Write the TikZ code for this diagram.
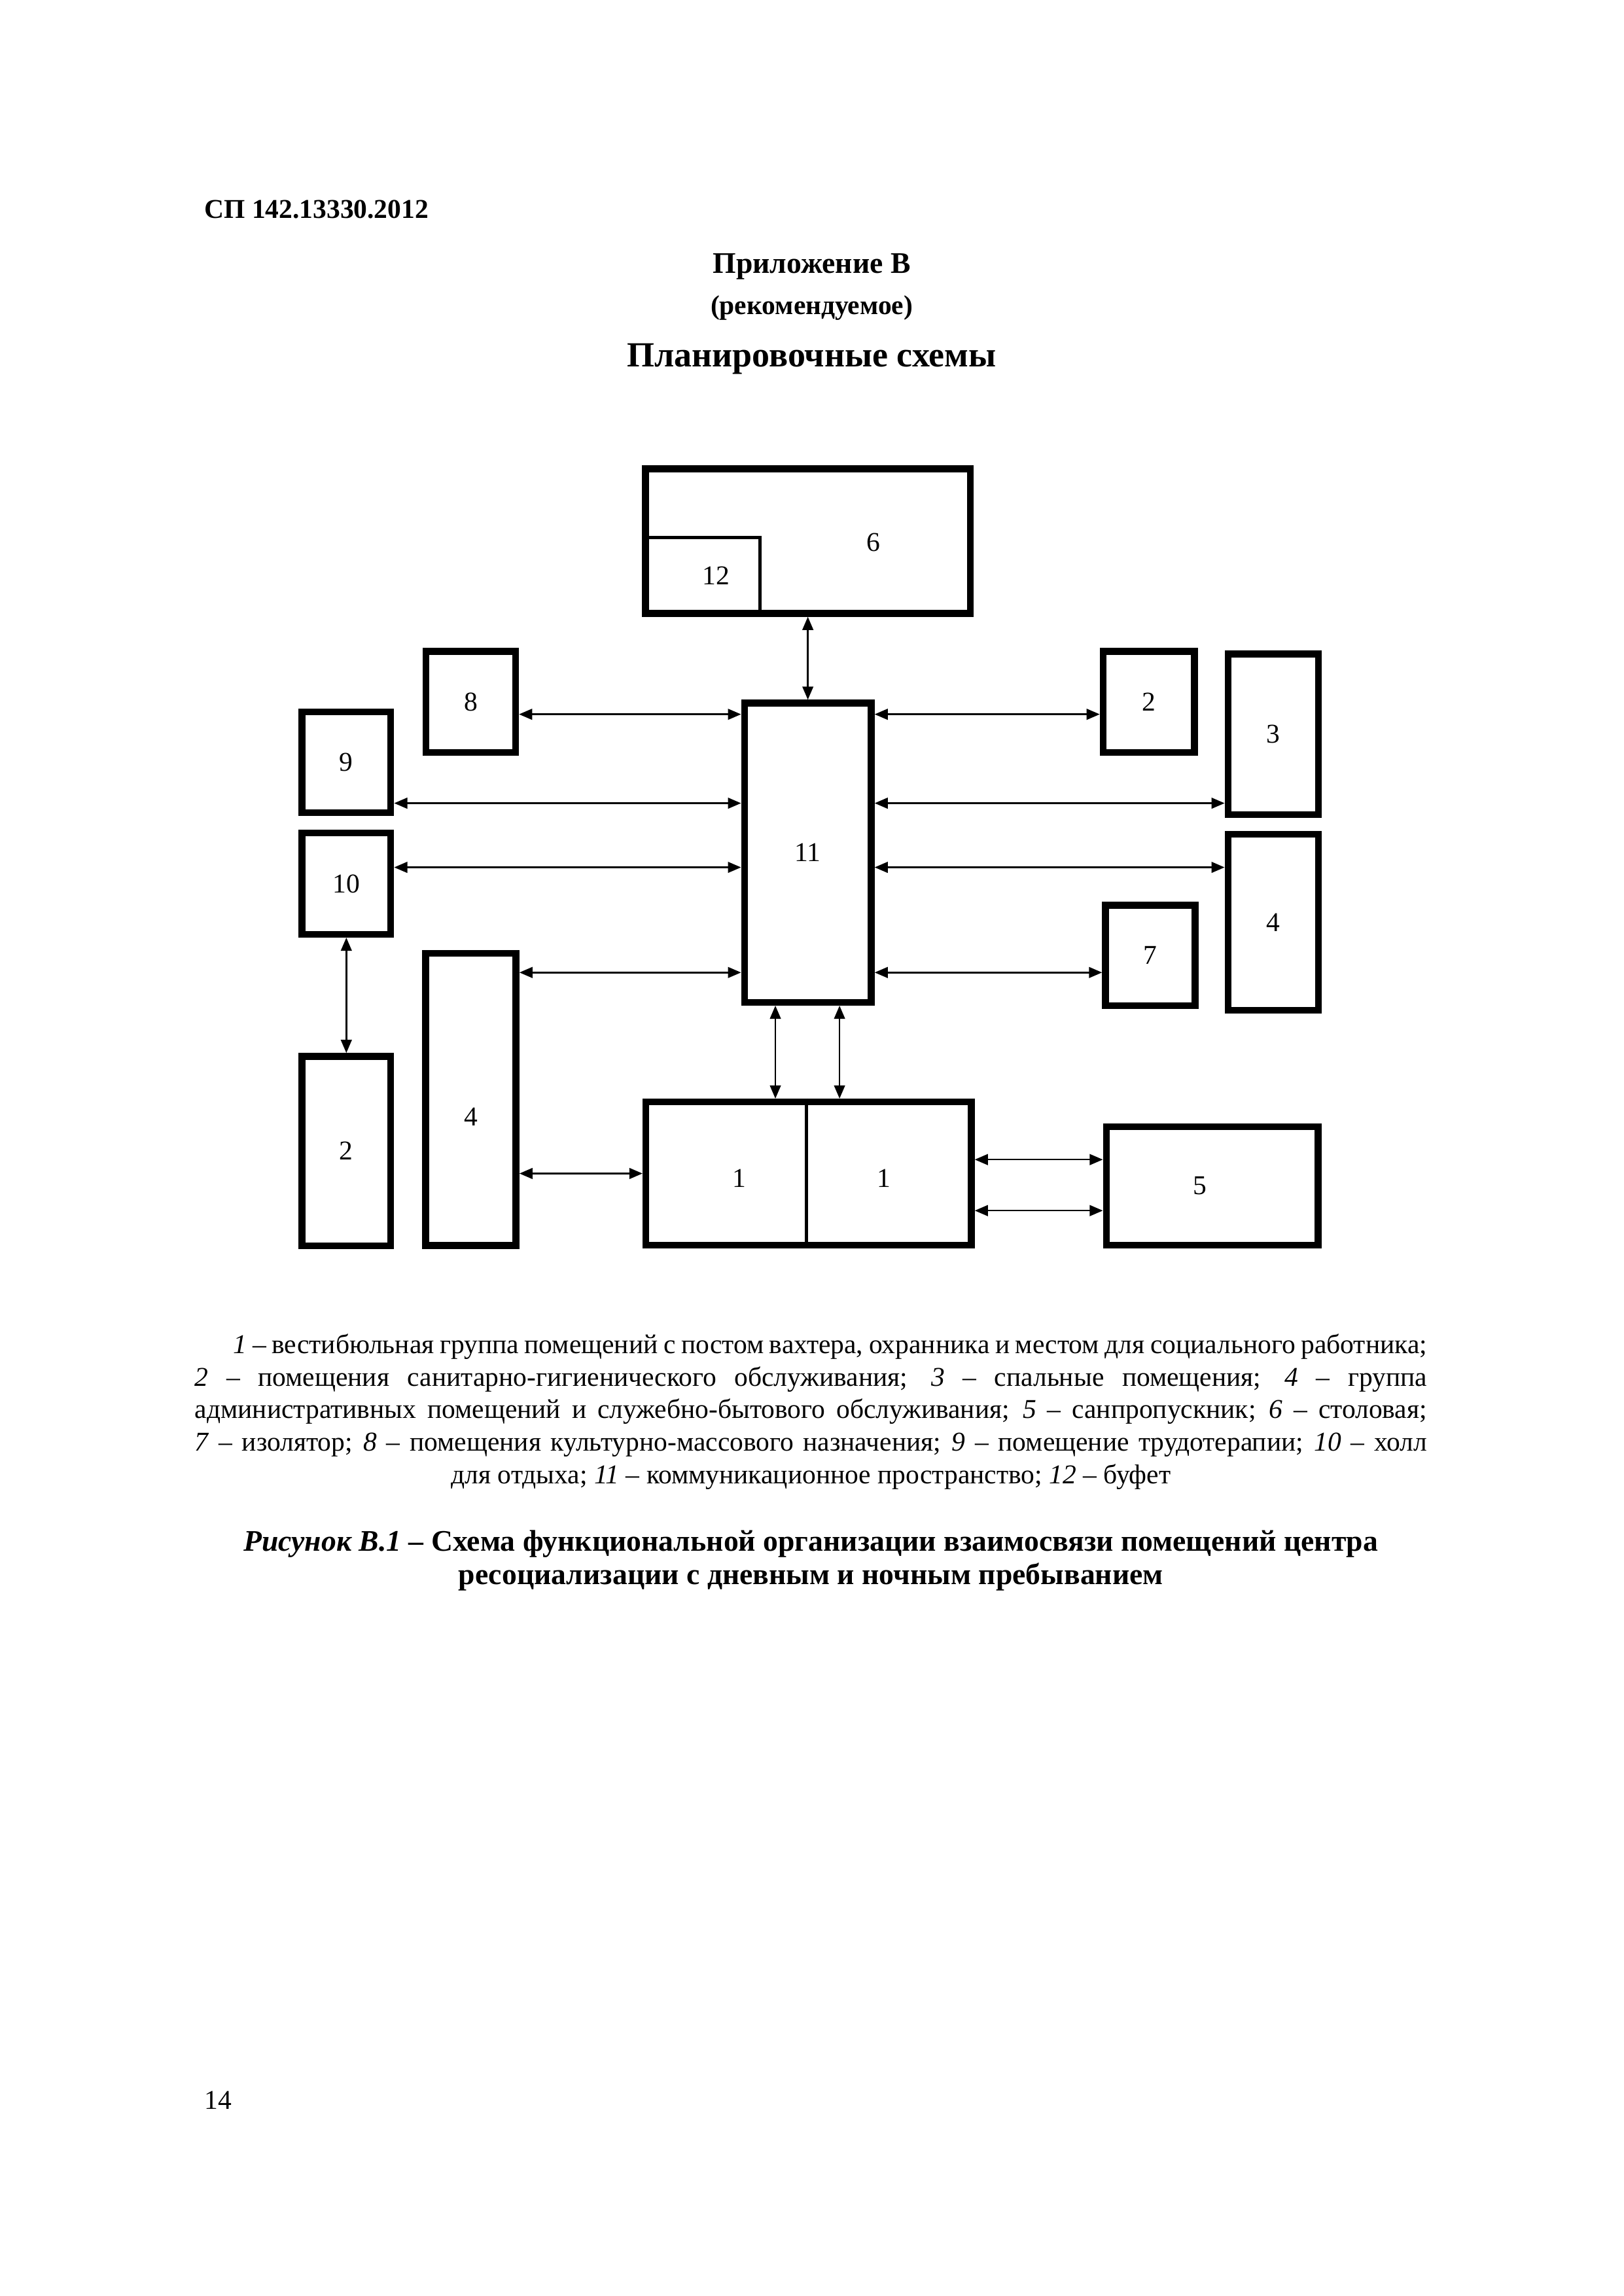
\documentclass[tikz,border=0pt]{standalone}
\usepackage{fontspec}
\setmainfont{Liberation Serif}
\usetikzlibrary{arrows.meta}

\begin{document}
\begin{tikzpicture}[
    >={Triangle[length=1.7mm, width=1.4mm]},
    font=\fontsize{10}{12}\selectfont,
    room/.style={draw, line width=2.5pt, inner sep=0pt},
    link/.style={<->, line width=0.6pt},
    partition/.style={line width=1.2pt},
]

% --- Page (A4) ---
\useasboundingbox (0,0) rectangle (21,29.7);

% --- Header ---
\node[font=\fontsize{10}{12}\selectfont\bfseries, anchor=west]
    (code) at (2.52, 26.99) {СП 142.13330.2012};
\node[font=\fontsize{11}{13}\selectfont\bfseries]
    (app) at (10.5, 26.25) {Приложение В};
\node[font=\fontsize{10}{12}\selectfont\bfseries]
    (rec) at (10.5, 25.72) {(рекомендуемое)};
\node[font=\fontsize{13}{15}\selectfont\bfseries]
    (head) at (10.5, 25.06) {Планировочные схемы};

% --- Rooms ---
\node[room, minimum width=4.20cm, minimum height=1.87cm] (n6) at (10.45, 22.70) {};
\node[room, minimum width=1.64cm, minimum height=3.87cm] (n11) at (10.45, 18.67) {11};
\node[room, minimum width=1.16cm, minimum height=1.31cm] (n8) at (6.09, 20.62) {8};
\node[room, minimum width=1.15cm, minimum height=1.30cm] (n9) at (4.48, 19.84) {9};
\node[room, minimum width=1.15cm, minimum height=1.31cm] (n10) at (4.48, 18.27) {10};
\node[room, minimum width=1.15cm, minimum height=2.45cm] (n2l) at (4.48, 14.81) {2};
\node[room, minimum width=1.17cm, minimum height=3.78cm,
      label={[yshift=-2.3mm]center:4}] (n4l) at (6.09, 15.48) {};
\node[room, minimum width=4.21cm, minimum height=1.85cm] (n1) at (10.46, 14.52) {};
\node[room, minimum width=1.18cm, minimum height=1.31cm] (n2r) at (14.86, 20.62) {2};
\node[room, minimum width=1.17cm, minimum height=2.08cm] (n3) at (16.47, 20.20) {3};
\node[room, minimum width=1.17cm, minimum height=2.28cm] (n4r) at (16.47, 17.77) {4};
\node[room, minimum width=1.16cm, minimum height=1.30cm] (n7) at (14.88, 17.34) {7};
\node[room, minimum width=2.74cm, minimum height=1.53cm,
      label={[xshift=-1.6mm]center:5}] (n5) at (15.68, 14.36) {};

% --- Buffet inside the dining room, and the split vestibule ---
\coordinate (k12) at (9.83, 22.75);
\draw[partition] (n6.west |- k12) -| (k12 |- n6.south);
\node (l12) at (9.26, 22.25) {12};
\node (l6) at (11.30, 22.68) {6};

\coordinate (k1) at (10.43, 0);
\draw[partition] (n1.north -| k1) -- (n1.south -| k1);
\node (l1a) at (9.56, 14.46) {1};
\node (l1b) at (11.43, 14.46) {1};

% --- Links ---
\coordinate (r1) at (0, 20.46);
\coordinate (r2) at (0, 19.31);
\coordinate (r3) at (0, 18.48);
\coordinate (r4) at (0, 17.12);

\foreach \a/\r in {n8/r1, n9/r2, n10/r3, n4l/r4}
    \draw[link] (\a.east |- \r) -- (n11.west |- \r);
\foreach \b/\r in {n2r/r1, n3/r2, n4r/r3, n7/r4}
    \draw[link] (n11.east |- \r) -- (\b.west |- \r);

\draw[link] (n6.south) -- (n11.north);
\draw[link] (n10.south) -- (n2l.north);

\coordinate (c1) at (10.03, 0);
\coordinate (c2) at (10.86, 0);
\foreach \c in {c1, c2}
    \draw[link] (n11.south -| \c) -- (n1.north -| \c);

\draw[link] (n4l.east |- n1.west) -- (n1.west);

\coordinate (q1) at (0, 14.70);
\coordinate (q2) at (0, 14.04);
\foreach \q in {q1, q2}
    \draw[link] (n1.east |- \q) -- (n5.west |- \q);

% --- Legend ---
\node[anchor=north, text width=15.94cm, align=justify] (legend) at (10.49, 12.57) {%
    \parfillskip=0pt
    \hspace*{5mm}\textit{1} – вестибюльная группа помещений с постом вахтера, охранника и местом для социального работника;\linebreak
    \textit{2} – помещения санитарно-гигиенического обслуживания; \textit{3} – спальные помещения; \textit{4} – группа\linebreak
    административных помещений и служебно-бытового обслуживания; \textit{5} – санпропускник; \textit{6} – столовая;\linebreak
    \textit{7} – изолятор; \textit{8} – помещения культурно-массового назначения; \textit{9} – помещение трудотерапии; \textit{10} – холл\par
    \centering для отдыха; \textit{11} – коммуникационное пространство; \textit{12} – буфет\par};

% --- Caption ---
\node[anchor=north, align=center, font=\fontsize{11}{12.4}\selectfont\bfseries]
    (caption) at (10.49, 10.03)
    {\textit{Рисунок В.1} – Схема функциональной организации взаимосвязи помещений центра\\
     ресоциализации с дневным и ночным пребыванием};

% --- Page number ---
\node[anchor=west] (page) at (2.52, 2.53) {14};

\end{tikzpicture}
\end{document}
